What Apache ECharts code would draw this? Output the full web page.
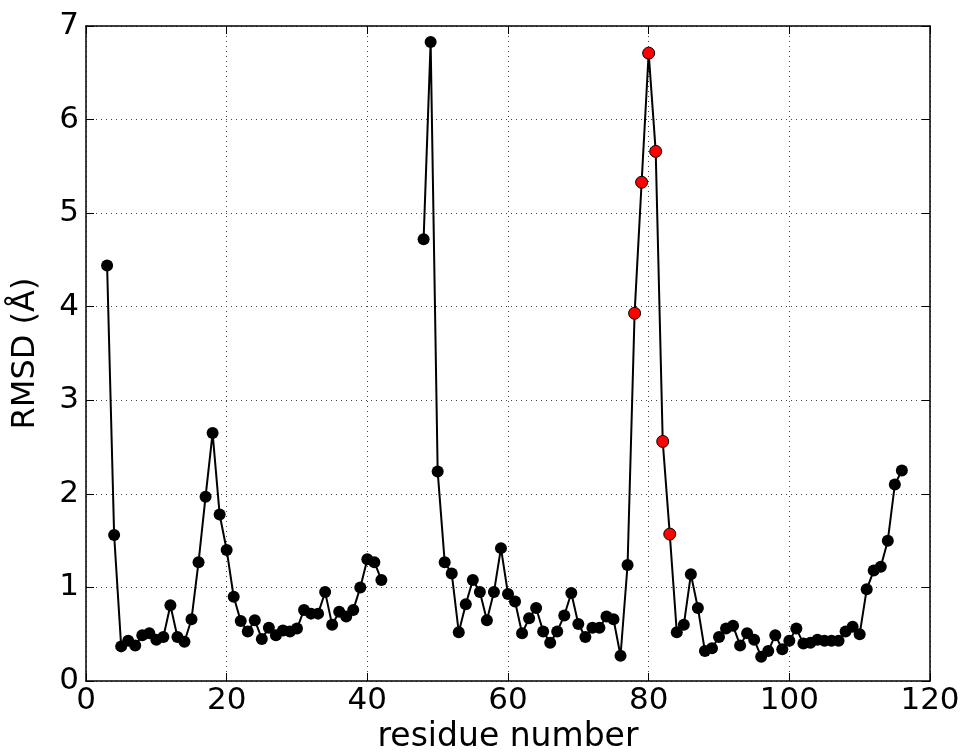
<!DOCTYPE html>
<html>
<head>
<meta charset="utf-8">
<title>RMSD per residue</title>
<script src="https://cdn.jsdelivr.net/npm/echarts@6/dist/echarts.min.js"></script>
<style>
  html, body { margin: 0; padding: 0; background: #fff; }
  #chart { width: 963px; height: 752px; }
</style>
</head>
<body>
<div id="chart"></div>
<script>
// residue numbers (43-47 have no value -> gap in the line)
const residues = [];
for (let r = 3; r <= 116; r++) residues.push(r);

// RMSD values, one per residue above; '-' = missing
const rmsd = [
  4.44, 1.56, 0.37, 0.43, 0.38, 0.49, 0.51, 0.44, 0.47, 0.81,   // 3-12
  0.47, 0.42, 0.66, 1.27, 1.97, 2.65, 1.78, 1.40, 0.90, 0.64,   // 13-22
  0.53, 0.65, 0.45, 0.57, 0.49, 0.54, 0.53, 0.56, 0.76, 0.72,   // 23-32
  0.72, 0.95, 0.60, 0.74, 0.69, 0.76, 1.00, 1.30, 1.27, 1.08,   // 33-42
  '-', '-', '-', '-', '-',                                      // 43-47
  4.72, 6.83, 2.24, 1.27, 1.15, 0.52, 0.82, 1.08, 0.95, 0.65,   // 48-57
  0.95, 1.42, 0.93, 0.85, 0.51, 0.67, 0.78, 0.53, 0.41, 0.53,   // 58-67
  0.70, 0.94, 0.61, 0.47, 0.57, 0.57, 0.69, 0.66, 0.27, 1.24,   // 68-77
  3.93, 5.33, 6.71, 5.66, 2.56, 1.57, 0.52, 0.60, 1.14, 0.78,   // 78-87
  0.32, 0.35, 0.47, 0.56, 0.59, 0.38, 0.51, 0.44, 0.26, 0.32,   // 88-97
  0.49, 0.34, 0.43, 0.56, 0.40, 0.41, 0.44, 0.43, 0.43, 0.43,   // 98-107
  0.53, 0.58, 0.50, 0.98, 1.18, 1.22, 1.50, 2.10, 2.25          // 108-116
];

// residues drawn with red markers
const highlighted = [78, 79, 80, 81, 82, 83];

const xTicks = { min: 0, max: 120, interval: 20 };
const yTicks = { min: 0, max: 7, interval: 1 };

const font = 'DejaVu Sans';

const seriesData = residues.map((r, i) => {
  const item = { value: [r, rmsd[i]] };
  if (highlighted.includes(r)) {
    item.itemStyle = { color: '#ff0000', borderColor: '#000', borderWidth: 1 };
  }
  return item;
});

const spine = { show: true, onZero: false, lineStyle: { color: '#000', width: 1.5 } };
const tick = { show: true, inside: true, length: 8, lineStyle: { color: '#000', width: 1 } };
const grid = { show: true, lineStyle: { color: '#444', type: [1, 4], width: 1 } };

const chart = echarts.init(document.getElementById('chart'));

chart.setOption({
  animation: false,
  backgroundColor: '#fff',
  textStyle: { fontFamily: font },
  grid: { left: 86, right: 33, top: 26, bottom: 71, outerBoundsMode: 'none', containLabel: false },
  xAxis: [
    {
      type: 'value', ...xTicks,
      name: 'residue number',
      nameLocation: 'middle',
      nameGap: 36,
      nameTextStyle: { fontFamily: font, fontSize: 33, color: '#000' },
      axisLine: spine, axisTick: tick, splitLine: grid,
      axisLabel: { fontFamily: font, fontSize: 31, color: '#000', margin: 4 }
    },
    {
      type: 'value', ...xTicks, position: 'top',
      axisLine: spine, axisTick: tick, splitLine: { show: false },
      axisLabel: { show: false }
    }
  ],
  yAxis: [
    {
      type: 'value', ...yTicks,
      name: 'RMSD (Å)',
      nameLocation: 'middle',
      nameGap: 44,
      nameTextStyle: { fontFamily: font, fontSize: 32, color: '#000' },
      axisLine: spine, axisTick: tick, splitLine: grid,
      axisLabel: { fontFamily: font, fontSize: 31, color: '#000', margin: 7 }
    },
    {
      type: 'value', ...yTicks, position: 'right',
      axisLine: spine, axisTick: tick, splitLine: { show: false },
      axisLabel: { show: false }
    }
  ],
  series: [
    {
      type: 'line',
      data: seriesData,
      connectNulls: false,
      symbol: 'circle',
      symbolSize: 12,
      lineStyle: { color: '#000', width: 2 },
      itemStyle: { color: '#000' }
    }
  ]
});
</script>
</body>
</html>
